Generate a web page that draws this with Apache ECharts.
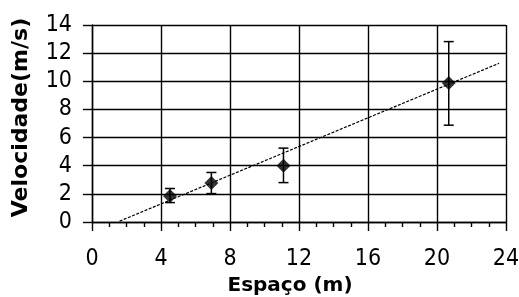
<!DOCTYPE html>
<html><head><meta charset="utf-8">
<script src="https://cdn.jsdelivr.net/npm/echarts@6/dist/echarts.min.js"></script>
<style>html,body{margin:0;padding:0;background:#fff}#c{width:519px;height:297px}</style>
</head><body><div id="c"></div>
<script>
var xTicks = [0, 4, 8, 12, 16, 20, 24];
var yTicks = [0, 2, 4, 6, 8, 10, 12, 14];
var espaco = [4.52, 6.92, 11.1, 20.68];
var velocidade = [1.85, 2.78, 4.0, 9.88];
var errLow = [1.38, 2.02, 2.8, 6.88];
var errHigh = [2.38, 3.52, 5.25, 12.82];
var trendX = [1.6, 23.6];
var trendY = [0.06, 11.28];

var chart = echarts.init(document.getElementById('c'), null, {renderer: 'canvas'});
var tickFont = '"Liberation Sans Narrow","DejaVu Sans Condensed","Liberation Sans",Arial,sans-serif';
var nameFont = '"DejaVu Sans",Arial,sans-serif';
var pts = espaco.map(function (x, i) { return [x, velocidade[i]]; });
var errs = espaco.map(function (x, i) { return [x, errLow[i], errHigh[i]]; });
var trend = trendX.map(function (x, i) { return [x, trendY[i]]; });

chart.setOption({
  animation: false,
  grid: {left: 92, right: 13, top: 25, bottom: 75, show: false, containLabel: false, outerBoundsMode: 'none'},
  xAxis: {
    type: 'value', min: xTicks[0], max: xTicks[xTicks.length - 1], interval: 4,
    name: 'Espaço (m)', nameLocation: 'middle', nameGap: 42,
    nameTextStyle: {fontFamily: nameFont, fontWeight: 'bold', fontSize: 20, color: '#000', padding: [0, 18, 0, 0]},
    axisLine: {show: true, onZero: false, lineStyle: {color: '#000', width: 1.4}},
    axisTick: {show: true, inside: false, length: 9, lineStyle: {color: '#000', width: 1.4}},
    minorTick: {show: true, splitNumber: 4, length: 5, lineStyle: {color: '#000', width: 1.4}},
    axisLabel: {fontFamily: tickFont, fontSize: 23, color: '#000', margin: 26},
    splitLine: {show: true, lineStyle: {color: '#000', width: 1.4}},
    minorSplitLine: {show: false}
  },
  yAxis: {
    type: 'value', min: yTicks[0], max: yTicks[yTicks.length - 1], interval: 2,
    name: 'Velocidade(m/s)', nameLocation: 'middle', nameGap: 60,
    nameTextStyle: {fontFamily: nameFont, fontWeight: 'bold', fontSize: 22, color: '#000', padding: [0, 0, 0, 12]},
    axisLine: {show: true, onZero: false, lineStyle: {color: '#000', width: 1.4}},
    axisTick: {show: true, inside: false, length: 9, lineStyle: {color: '#000', width: 1.4}},
    axisLabel: {fontFamily: tickFont, fontSize: 23, color: '#000', margin: 20},
    splitLine: {show: true, lineStyle: {color: '#000', width: 1.4}}
  },
  series: [
    {
      type: 'line', data: trend, symbol: 'none', silent: true,
      lineStyle: {color: '#000', width: 1.2, type: [3, 1.5]}, z: 3
    },
    {
      type: 'custom', data: errs, z: 4, silent: true,
      renderItem: function (params, api) {
        var x = api.value(0);
        var lo = api.coord([x, api.value(1)]);
        var hi = api.coord([x, api.value(2)]);
        var w = 5;
        var st = {stroke: '#000', lineWidth: 1.5};
        return {type: 'group', children: [
          {type: 'line', shape: {x1: lo[0], y1: lo[1], x2: hi[0], y2: hi[1]}, style: st},
          {type: 'line', shape: {x1: lo[0] - w, y1: lo[1], x2: lo[0] + w, y2: lo[1]}, style: st},
          {type: 'line', shape: {x1: hi[0] - w, y1: hi[1], x2: hi[0] + w, y2: hi[1]}, style: st}
        ]};
      }
    },
    {
      type: 'scatter', data: pts, symbol: 'diamond', symbolSize: 14, z: 5,
      itemStyle: {color: '#000'}
    }
  ]
});
</script></body></html>
